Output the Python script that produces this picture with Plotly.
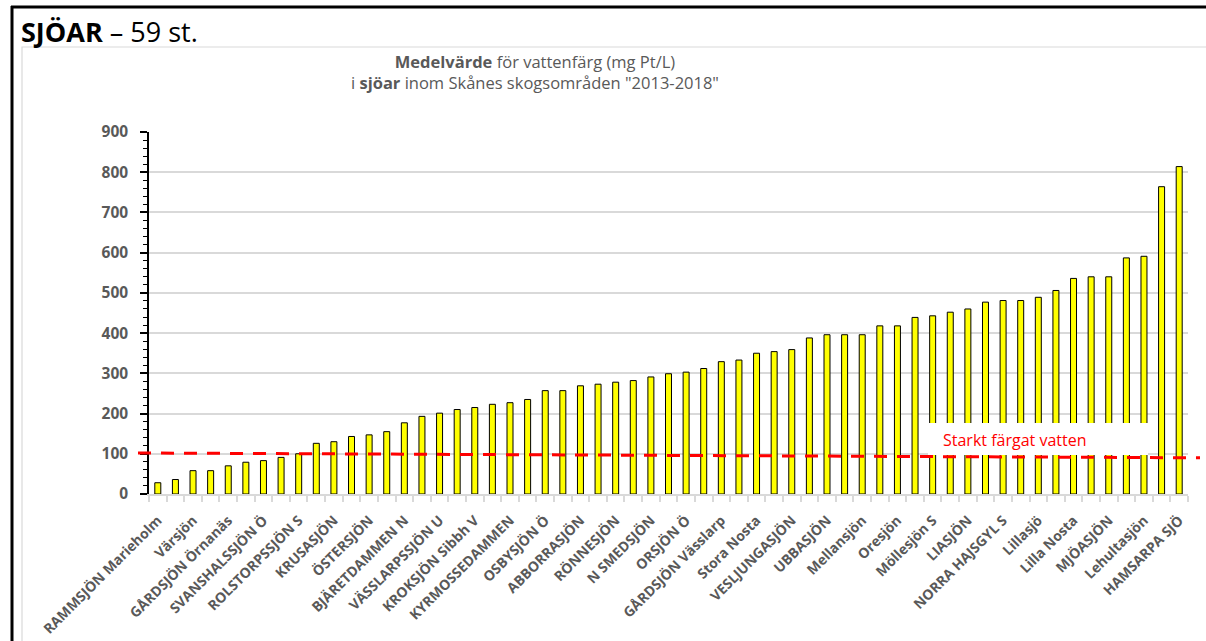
import plotly.graph_objects as go

# ---- data ----
shown_labels = [
    "RAMMSJÖN Marieholm", "Värsjön", "GÅRDSJÖN Örnanäs", "SVANSHALSSJÖN Ö",
    "ROLSTORPSSJÖN S", "KRUSASJÖN", "ÖSTERSJÖN", "BJÄRETDAMMEN N",
    "VÄSSLARPSSJÖN U", "KROKSJÖN Sibbh V", "KYRMOSSEDAMMEN", "OSBYSJÖN Ö",
    "ABBORRASJÖN", "RÖNNESJÖN", "N SMEDSJÖN", "ORSJÖN Ö", "GÅRDSJÖN Vässlarp",
    "Stora Nosta", "VESLJUNGASJÖN", "UBBASJÖN", "Mellansjön", "Oresjön",
    "Möllesjön S", "LIASJÖN", "NORRA HAJSGYL S", "Lillasjö", "Lilla Nosta",
    "MJÖASJÖN", "Lehultasjön", "HAMSARPA SJÖ",
]
values = [
    28, 36, 58, 58, 70, 79, 83, 91, 100, 126,
    130, 143, 147, 155, 177, 193, 201, 210, 215, 223,
    227, 235, 257, 257, 269, 273, 278, 282, 291, 299,
    303, 312, 329, 333, 350, 354, 359, 388, 396, 396,
    396, 418, 418, 439, 443, 452, 460, 477, 481, 481,
    489, 506, 536, 540, 540, 587, 591, 764, 814,
]
threshold = [102, 90]   # red dashed line, start / end value
threshold_label = "Starkt färgat vatten"
y_ticks = [0, 100, 200, 300, 400, 500, 600, 700, 800, 900]

# ---- geometry helpers (pixel -> paper) ----
W, H = 1206, 641
L, R, T, B = 149, 1188, 132, 494
def xp(px):
    return (px - L) / (R - L)
def yp(py):
    return (B - py) / (B - T)

GRAY = "#595959"
FONT = "Open Sans"

x = list(range(len(values)))
fig = go.Figure()
fig.add_trace(go.Bar(
    x=x, y=values, width=0.34,
    marker=dict(color="#FFFF00", line=dict(color="black", width=1)),
    showlegend=False, hoverinfo="y",
))

tickvals = x[::2]
fig.update_layout(
    width=W, height=H,
    margin=dict(l=L, r=W - R, t=T, b=H - B, pad=0, autoexpand=False),
    paper_bgcolor="white", plot_bgcolor="white",
    xaxis=dict(
        range=[-0.5, len(values) - 0.5],
        tickmode="array", tickvals=tickvals, ticktext=shown_labels,
        tickangle=-45, ticks="",
        tickfont=dict(family=FONT, size=14, color=GRAY, weight="bold"),
        ticklabelstandoff=11, automargin=False,
        showgrid=False, zeroline=False,
        showline=True, linecolor="#d9d9d9", linewidth=1.5,
        minor=dict(tickmode="array", tickvals=[i - 0.5 for i in range(len(values) + 1)],
                   ticks="outside", ticklen=6, tickcolor="#d9d9d9", tickwidth=1.5,
                   showgrid=False),
        fixedrange=True,
    ),
    yaxis=dict(
        range=[0, 900], tickmode="array", tickvals=y_ticks,
        ticks="outside", ticklen=7, tickcolor="black", tickwidth=1.5,
        tickfont=dict(family=FONT, size=15.5, color=GRAY, weight="bold"),
        ticklabelstandoff=9, automargin=False,
        showgrid=True, gridcolor="#d9d9d9", gridwidth=1.5,
        zeroline=False,
        showline=True, linecolor="black", linewidth=1.5,
        minor=dict(dtick=20, ticks="outside", ticklen=4, tickcolor="black",
                   tickwidth=1, showgrid=False),
        fixedrange=True,
    ),
)

shapes = [
    # chart area border (light gray)
    dict(type="rect", xref="paper", yref="paper",
         x0=xp(22), x1=xp(1215), y0=yp(47), y1=yp(660),
         line=dict(color="#d9d9d9", width=1.2), fillcolor="rgba(0,0,0,0)", layer="below"),
    # black frame lines
    dict(type="line", xref="paper", yref="paper",
         x0=xp(11), x1=xp(1210), y0=yp(7), y1=yp(7),
         line=dict(color="black", width=3)),
    dict(type="line", xref="paper", yref="paper",
         x0=xp(12), x1=xp(12), y0=yp(6), y1=yp(650),
         line=dict(color="black", width=3)),
    # white box behind threshold label
    dict(type="rect", xref="paper", yref="paper",
         x0=xp(928), x1=xp(1148), y0=yp(455), y1=yp(423),
         line=dict(width=0), fillcolor="white", layer="above"),
    # red dashed threshold line
    dict(type="line", xref="paper", yref="y",
         x0=xp(138), x1=xp(1200), y0=threshold[0], y1=threshold[1],
         line=dict(color="#FF0000", width=3, dash="13px,10px"), layer="above"),
]
fig.update_layout(shapes=shapes)

annotations = [
    dict(text="<b>SJÖAR</b> – 59 st.", xref="paper", yref="paper",
         x=xp(19), y=yp(31), xanchor="left", yanchor="middle", showarrow=False,
         font=dict(family=FONT, size=27, color="black")),
    dict(text="<b>Medelvärde</b> för vattenfärg (mg Pt/L)<br>i <b>sjöar</b> inom Skånes skogsområden \"2013-2018\"",
         xref="paper", yref="paper", x=xp(535), y=yp(72),
         xanchor="center", yanchor="middle", showarrow=False, align="center",
         font=dict(family=FONT, size=16.5, color=GRAY)),
    dict(text=threshold_label, xref="paper", yref="paper",
         x=xp(1015), y=yp(440), xanchor="center", yanchor="middle", showarrow=False,
         font=dict(family=FONT, size=16, color="#FF0000")),
]
fig.update_layout(annotations=annotations)

fig.write_html("out.html", config={"displayModeBar": False},
               post_script="document.body.style.margin='0';document.body.style.overflow='hidden';")
